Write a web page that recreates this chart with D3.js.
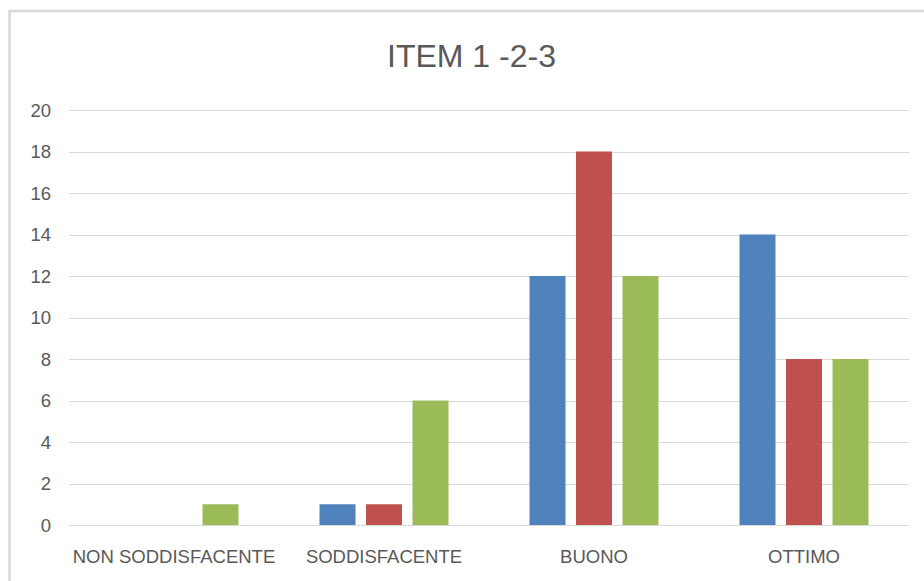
<!DOCTYPE html>
<html>
<head>
<meta charset="utf-8">
<script src="https://cdn.jsdelivr.net/npm/d3@7"></script>
<style>
  html, body { margin: 0; padding: 0; background: #ffffff; }
  svg { display: block; }
</style>
</head>
<body>
<svg id="chart" width="924" height="581"></svg>
<script>
const title = "ITEM 1 -2-3";
const categories = ["NON SODDISFACENTE", "SODDISFACENTE", "BUONO", "OTTIMO"];
const seriesNames = ["Item 1", "Item 2", "Item 3"];
const item1 = [0, 1, 12, 14];
const item2 = [0, 1, 18, 8];
const item3 = [1, 6, 12, 8];
const seriesValues = [item1, item2, item3];
const seriesColors = ["#4f81bd", "#c0504d", "#9bbb59"];
const yTicks = [0, 2, 4, 6, 8, 10, 12, 14, 16, 18, 20];

const svg = d3.select("#chart");
const W = 924, H = 581;
const plot = { left: 69, right: 909, top: 110, bottom: 525 };

// outer frame
svg.append("rect")
  .attr("x", 9.5).attr("y", 11)
  .attr("width", W + 20).attr("height", H + 20)
  .attr("fill", "#ffffff")
  .attr("stroke", "#d9d9d9")
  .attr("stroke-width", 2.6);

// title
svg.append("text")
  .attr("x", 471.5).attr("y", 67)
  .attr("text-anchor", "middle")
  .attr("font-family", "'Liberation Sans', Arial, sans-serif")
  .attr("font-size", 32)
  .attr("fill", "#595959")
  .text(title);

const y = d3.scaleLinear().domain([0, 20]).range([plot.bottom, plot.top]);
const x0 = d3.scaleBand().domain(categories).range([plot.left, plot.right]).padding(0);
const half = 64.5;
const x1 = d3.scaleBand().domain(seriesNames)
  .range([x0.bandwidth() / 2 - half, x0.bandwidth() / 2 + half])
  .paddingInner(10.5 / 46.5).paddingOuter(0);

// gridlines
svg.append("g")
  .selectAll("line")
  .data(yTicks)
  .join("line")
  .attr("x1", plot.left).attr("x2", plot.right)
  .attr("y1", d => Math.round(y(d)) + 0.5)
  .attr("y2", d => Math.round(y(d)) + 0.5)
  .attr("stroke", "#d9d9d9")
  .attr("stroke-width", 1.2);

// y axis labels
const yAxis = d3.axisLeft(y).tickValues(yTicks).tickSize(0).tickPadding(0);
const yg = svg.append("g")
  .attr("transform", `translate(51,0)`)
  .call(yAxis);
yg.select(".domain").remove();
yg.selectAll("text")
  .attr("font-family", "'Liberation Sans', Arial, sans-serif")
  .attr("font-size", 18.5)
  .attr("fill", "#595959")
  .attr("dy", "0.35em");

// bars
const groups = svg.append("g")
  .selectAll("g")
  .data(categories)
  .join("g")
  .attr("transform", d => `translate(${x0(d)},0)`);

groups.selectAll("rect")
  .data((c, i) => seriesNames.map((s, j) => ({ s, v: seriesValues[j][i], color: seriesColors[j] })))
  .join("rect")
  .attr("x", d => x1(d.s))
  .attr("width", x1.bandwidth())
  .attr("y", d => y(d.v))
  .attr("height", d => y(0) - y(d.v))
  .attr("fill", d => d.color);

// x axis labels
const xAxis = d3.axisBottom(x0).tickSize(0).tickPadding(0);
const xg = svg.append("g")
  .attr("transform", `translate(0,${plot.bottom})`)
  .call(xAxis);
xg.select(".domain").remove();
xg.selectAll("text")
  .attr("font-family", "'Liberation Sans', Arial, sans-serif")
  .attr("font-size", 18.5)
  .attr("fill", "#595959")
  .attr("dy", 0)
  .attr("y", 38);
</script>
</body>
</html>
